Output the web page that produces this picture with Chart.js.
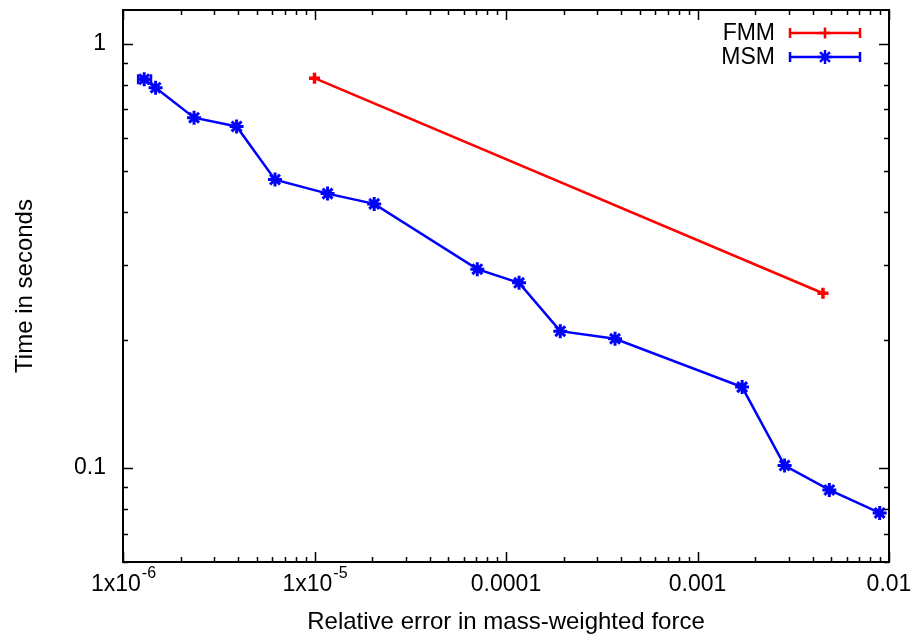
<!DOCTYPE html>
<html>
<head>
<meta charset="utf-8">
<script src="https://cdn.jsdelivr.net/npm/chart.js@4.4.1/dist/chart.umd.min.js"></script>
<style>
  html, body { margin: 0; padding: 0; background: #fff; }
  #wrap { width: 915px; height: 635px; }
</style>
</head>
<body>
<div id="wrap"><canvas id="chart" width="915" height="635"></canvas></div>
<script>
// MSM runs: relative error vs. time
const msmError = [1.29e-6, 1.48e-6, 2.35e-6, 3.92e-6, 6.22e-6, 1.17e-5, 2.05e-5, 7.08e-5, 1.17e-4, 1.92e-4, 3.71e-4, 1.71e-3, 2.85e-3, 4.88e-3, 8.94e-3];
const msmTime = [0.824, 0.787, 0.669, 0.638, 0.478, 0.443, 0.419, 0.294, 0.273, 0.210, 0.2015, 0.155, 0.1013, 0.0887, 0.0783];
// x error bars (only the first one is wide enough to see)
const msmErrLow = [1.20e-6, null, null, null, null, null, null, null, null, null, null, null, null, null, null];
const msmErrHigh = [1.40e-6, null, null, null, null, null, null, null, null, null, null, null, null, null, null];

// FMM runs
const fmmError = [1.0e-5, 4.52e-3];
const fmmTime = [0.829, 0.258];

const xTickValues = [1e-6, 1e-5, 1e-4, 1e-3, 1e-2];
const xTickLabels = ['1x10^-6', '1x10^-5', '0.0001', '0.001', '0.01'];
const yTickValues = [0.1, 1];
const yTickLabels = ['0.1', '1'];

const FONT = '"Liberation Sans", Arial, Helvetica, sans-serif';

function toPoints(xs, ys) {
  return xs.map((x, i) => ({ x: x, y: ys[i] }));
}

function minorValues(min, max) {
  const out = [];
  for (let d = Math.floor(Math.log10(min)); d <= Math.ceil(Math.log10(max)); d++) {
    for (let m = 1; m <= 9; m++) {
      const v = m * Math.pow(10, d);
      if (v >= min * 0.999 && v <= max * 1.001) out.push({ v: v, major: m === 1 });
    }
  }
  return out;
}

const gnuplotLook = {
  id: 'gnuplotLook',
  afterDatasetsDraw(chart) {
    const ctx = chart.ctx;
    const a = chart.chartArea;
    const xs = chart.scales.x;
    const ys = chart.scales.y;
    ctx.save();

    // error bars
    chart.data.datasets.forEach(ds => {
      if (!ds.errLow) return;
      ctx.strokeStyle = ds.borderColor;
      ctx.lineWidth = 2.5;
      ds.errLow.forEach((lo, i) => {
        const hi = ds.errHigh[i];
        if (lo == null || hi == null) return;
        const py = ys.getPixelForValue(ds.data[i].y);
        const x1 = xs.getPixelForValue(lo);
        const x2 = xs.getPixelForValue(hi);
        ctx.beginPath();
        ctx.moveTo(x1, py); ctx.lineTo(x2, py);
        ctx.moveTo(x1, py - 5); ctx.lineTo(x1, py + 5);
        ctx.moveTo(x2, py - 5); ctx.lineTo(x2, py + 5);
        ctx.stroke();
      });
    });

    // frame
    ctx.strokeStyle = '#000';
    ctx.lineWidth = 2;
    ctx.strokeRect(a.left, a.top, a.right - a.left, a.bottom - a.top);

    // inward ticks, mirrored
    ctx.lineWidth = 1.5;
    ctx.beginPath();
    minorValues(xs.min, xs.max).forEach(t => {
      const px = Math.round(xs.getPixelForValue(t.v)) + 0.5;
      const len = t.major ? 10 : 5;
      ctx.moveTo(px, a.bottom); ctx.lineTo(px, a.bottom - len);
      ctx.moveTo(px, a.top); ctx.lineTo(px, a.top + len);
    });
    minorValues(ys.min, ys.max).forEach(t => {
      const py = Math.round(ys.getPixelForValue(t.v)) + 0.5;
      const len = t.major ? 10 : 5;
      ctx.moveTo(a.left, py); ctx.lineTo(a.left + len, py);
      ctx.moveTo(a.right, py); ctx.lineTo(a.right - len, py);
    });
    ctx.stroke();

    // tick labels
    ctx.fillStyle = '#000';
    ctx.textBaseline = 'middle';
    xTickValues.forEach((v, i) => {
      const px = xs.getPixelForValue(v);
      const parts = xTickLabels[i].split('^');
      ctx.font = '23px ' + FONT;
      const wBase = ctx.measureText(parts[0]).width;
      let wExp = 0;
      if (parts[1]) {
        ctx.font = '16px ' + FONT;
        wExp = ctx.measureText(parts[1]).width;
      }
      const start = px - (wBase + wExp) / 2;
      ctx.textAlign = 'left';
      ctx.font = '23px ' + FONT;
      ctx.fillText(parts[0], start, a.bottom + 23);
      if (parts[1]) {
        ctx.font = '16px ' + FONT;
        ctx.fillText(parts[1], start + wBase + 1, a.bottom + 12);
      }
    });
    ctx.font = '23px ' + FONT;
    ctx.textAlign = 'right';
    yTickValues.forEach((v, i) => {
      ctx.fillText(yTickLabels[i], a.left - 17, ys.getPixelForValue(v));
    });

    // axis titles
    ctx.font = '24px ' + FONT;
    ctx.textAlign = 'center';
    ctx.fillText('Relative error in mass-weighted force', (a.left + a.right) / 2, a.bottom + 60);
    ctx.save();
    ctx.translate(25, (a.top + a.bottom) / 2);
    ctx.rotate(-Math.PI / 2);
    ctx.fillText('Time in seconds', 0, 0);
    ctx.restore();

    // key
    const keyY = [33, 57];
    chart.data.datasets.forEach((ds, di) => {
      const y = keyY[di];
      ctx.fillStyle = '#000';
      ctx.textAlign = 'right';
      ctx.font = '23px ' + FONT;
      ctx.fillText(ds.label, 775, y + 1);
      ctx.strokeStyle = ds.borderColor;
      ctx.lineWidth = 2.5;
      ctx.beginPath();
      ctx.moveTo(790, y); ctx.lineTo(860, y);
      ctx.moveTo(790, y - 5); ctx.lineTo(790, y + 5);
      ctx.moveTo(860, y - 5); ctx.lineTo(860, y + 5);
      ctx.stroke();
      Chart.helpers.drawPoint(ctx, {
        pointStyle: ds.pointStyle, radius: ds.pointRadius, borderWidth: ds.pointBorderWidth
      }, 825, y);
    });

    ctx.restore();
  }
};

new Chart(document.getElementById('chart').getContext('2d'), {
  type: 'line',
  data: {
    datasets: [
      {
        label: 'FMM',
        data: toPoints(fmmError, fmmTime),
        borderColor: '#ff0000',
        backgroundColor: '#ff0000',
        borderWidth: 2.5,
        pointStyle: 'cross',
        pointRadius: 5.5,
        pointBorderWidth: 3.5,
        pointBorderColor: '#ff0000',
        tension: 0
      },
      {
        label: 'MSM',
        data: toPoints(msmError, msmTime),
        errLow: msmErrLow,
        errHigh: msmErrHigh,
        borderColor: '#0000ff',
        backgroundColor: '#0000ff',
        borderWidth: 2.5,
        pointStyle: 'star',
        pointRadius: 7,
        pointBorderWidth: 3,
        pointBorderColor: '#0000ff',
        tension: 0
      }
    ]
  },
  options: {
    responsive: false,
    animation: false,
    devicePixelRatio: 1,
    layout: { padding: { left: 0, right: 26, top: 10, bottom: 0 } },
    plugins: {
      legend: { display: false },
      tooltip: { enabled: false }
    },
    scales: {
      x: {
        type: 'logarithmic',
        min: 1e-6,
        max: 1e-2,
        grid: { display: false },
        border: { display: false },
        ticks: { display: false },
        afterFit: s => { s.height = 73; }
      },
      y: {
        type: 'logarithmic',
        min: 0.06,
        max: 1.2,
        grid: { display: false },
        border: { display: false },
        ticks: { display: false },
        afterFit: s => { s.width = 123; }
      }
    }
  },
  plugins: [gnuplotLook]
});
</script>
</body>
</html>
